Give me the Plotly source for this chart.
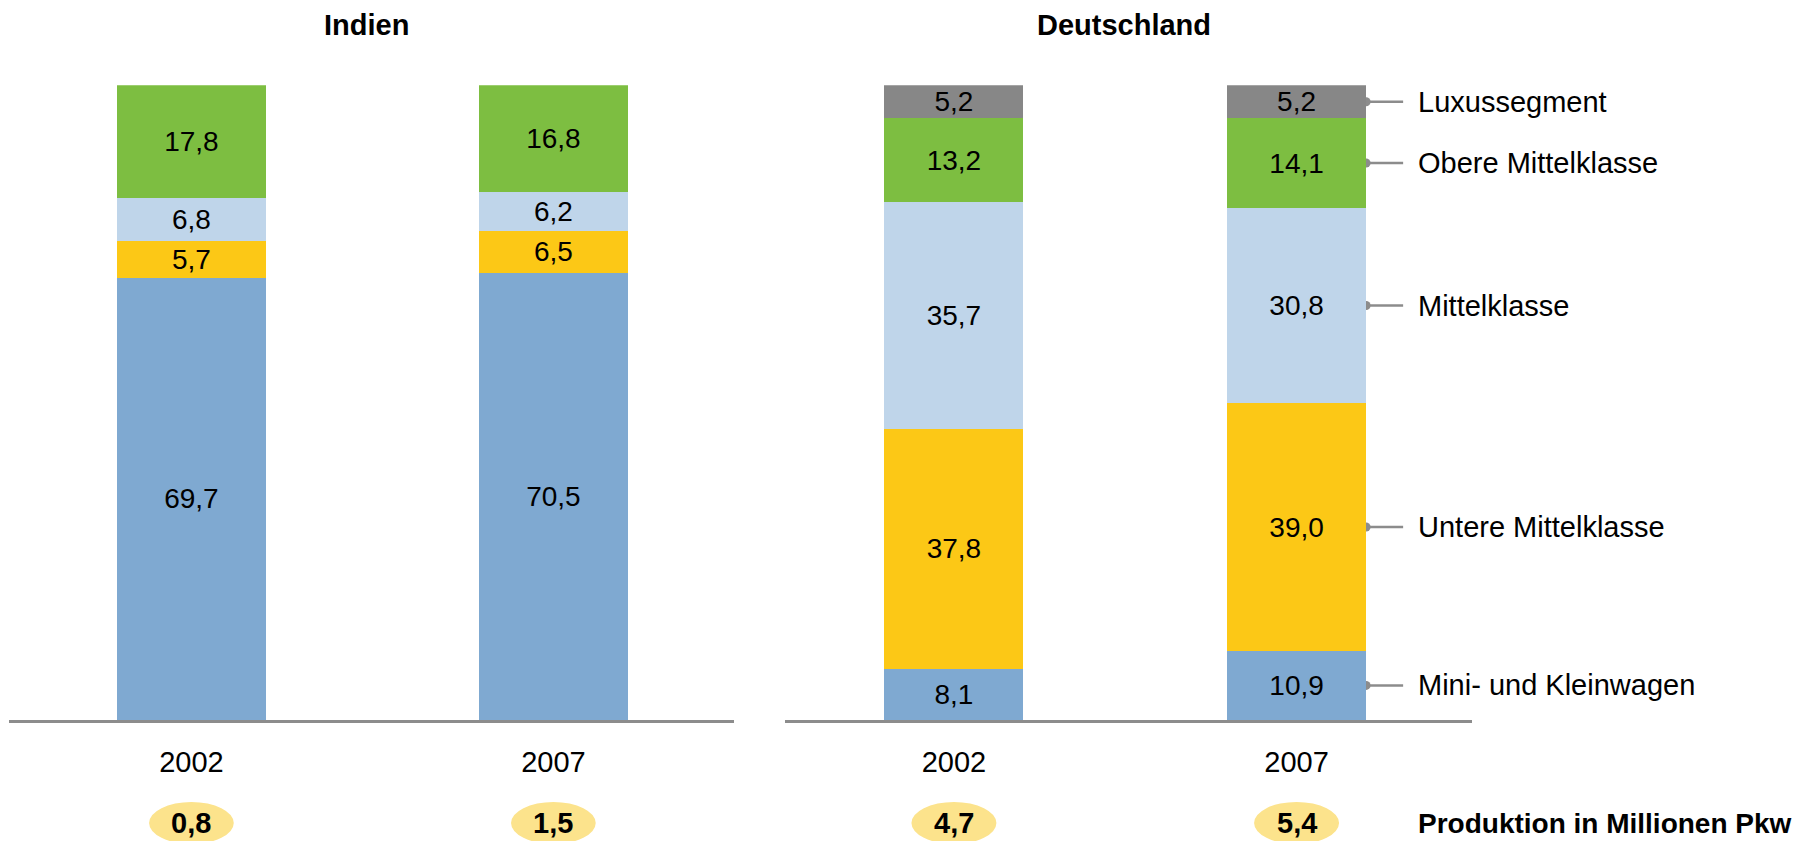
import plotly.graph_objects as go

# years on the x axis
years = ['2002', '2007']

# segment shares in percent, bottom to top
segments = ['Mini- und Kleinwagen', 'Untere Mittelklasse', 'Mittelklasse',
            'Obere Mittelklasse', 'Luxussegment']
colors = ['#7FA9D1', '#FCC816', '#BFD5EA', '#7DBE41', '#878787']

indien = {
    'Mini- und Kleinwagen': [69.7, 70.5],
    'Untere Mittelklasse': [5.7, 6.5],
    'Mittelklasse': [6.8, 6.2],
    'Obere Mittelklasse': [17.8, 16.8],
}
deutschland = {
    'Mini- und Kleinwagen': [8.1, 10.9],
    'Untere Mittelklasse': [37.8, 39.0],
    'Mittelklasse': [35.7, 30.8],
    'Obere Mittelklasse': [13.2, 14.1],
    'Luxussegment': [5.2, 5.2],
}

# production in millions of cars
prod_indien = [0.8, 1.5]
prod_deutschland = [4.7, 5.4]

FONT = 'Arial, Liberation Sans, sans-serif'
OFF = 8  # page body margin
W, H = 1820 - OFF, 841 - OFF
bar_w_left = 0.41
bar_w_right = 0.406


# page pixel -> paper fraction
def px(p):
    return (p - OFF) / W


def py(p):
    return 1 - (p - OFF) / H


fig = go.Figure()

for seg, col in zip(segments, colors):
    if seg in indien:
        fig.add_trace(go.Bar(x=years, y=indien[seg], name=seg, marker_color=col,
                             marker_line_width=0, width=bar_w_left,
                             texttemplate='%{y:.1f}', textposition='inside',
                             insidetextanchor='middle', constraintext='none',
                             textfont=dict(size=28, color='black', family=FONT),
                             xaxis='x', yaxis='y', showlegend=False, hoverinfo='skip'))
    fig.add_trace(go.Bar(x=years, y=deutschland[seg], name=seg, marker_color=col,
                         marker_line_width=0, width=bar_w_right,
                         texttemplate='%{y:.1f}', textposition='inside',
                         insidetextanchor='middle', constraintext='none',
                         textfont=dict(size=28, color='black', family=FONT),
                         xaxis='x2', yaxis='y2', showlegend=False, hoverinfo='skip'))

# connector lines, dots and labels next to the 2007 Deutschland bar
edge = 1 + bar_w_right / 2
cum = 0
for seg in segments:
    v = deutschland[seg][1]
    yc = cum + v / 2
    cum += v
    fig.add_shape(type='circle', xref='x2', yref='y2', xsizemode='pixel', ysizemode='pixel',
                  xanchor=edge, yanchor=yc, x0=-4.5, x1=4.5, y0=-4.5, y1=4.5,
                  fillcolor='#8C8C8C', line_width=0, layer='below')
    fig.add_shape(type='line', xref='x2', yref='y2', x0=edge, x1=edge + 0.108,
                  y0=yc, y1=yc, line=dict(color='#8C8C8C', width=2.5))
    fig.add_annotation(x=edge + 0.145, y=yc, xref='x2', yref='y2', text=seg,
                       showarrow=False, xanchor='left', yanchor='middle',
                       font=dict(size=29, color='black', family=FONT))

# production ellipses
ell_y = py(823)
ell_h = 21 / H
for xref, vals, half in [('x', prod_indien, 0.117), ('x2', prod_deutschland, 0.124)]:
    for i, v in enumerate(vals):
        fig.add_shape(type='circle', xref=xref, yref='paper', x0=i - half, x1=i + half,
                      y0=ell_y - ell_h, y1=ell_y + ell_h, fillcolor='#FCE38C',
                      line_width=0, layer='below')
        fig.add_annotation(x=i, y=ell_y, xref=xref, yref='paper',
                           text='<b>' + f'{v:.1f}'.replace('.', ',') + '</b>',
                           showarrow=False, xanchor='center', yanchor='middle',
                           font=dict(size=29, color='black', family=FONT))

fig.add_annotation(x=px(1416), y=ell_y, xref='paper', yref='paper',
                   text='<b>Produktion in Millionen Pkw</b>', showarrow=False,
                   xanchor='left', yanchor='middle',
                   font=dict(size=28, color='black', family=FONT))

# panel titles
for title, xp in [('Indien', 366), ('Deutschland', 1124)]:
    fig.add_annotation(x=px(xp), y=1, xref='paper', yref='paper',
                       text='<b>' + title + '</b>', showarrow=False,
                       xanchor='center', yanchor='top', borderpad=0,
                       font=dict(size=29, color='black', family=FONT))

y_dom = [py(720), py(85.3)]
axis_common = dict(showline=True, linecolor='#8C8C8C', linewidth=3, showgrid=False,
                   zeroline=False, ticks='', ticklabelstandoff=14,
                   tickfont=dict(size=29, color='black', family=FONT))

fig.update_layout(
    width=W, height=H,
    margin=dict(l=0, r=0, t=0, b=0),
    barmode='stack',
    separators=',.',
    paper_bgcolor='white', plot_bgcolor='white',
    font=dict(family=FONT),
    xaxis=dict(domain=[px(9), px(734)], range=[-0.504, 1.499], **axis_common),
    xaxis2=dict(domain=[px(785), px(1472)], range=[-0.493, 1.512], **axis_common),
    yaxis=dict(domain=y_dom, range=[0, 100], visible=False),
    yaxis2=dict(domain=y_dom, range=[0, 100], visible=False, anchor='x2'),
)

fig.write_html('out.html')
